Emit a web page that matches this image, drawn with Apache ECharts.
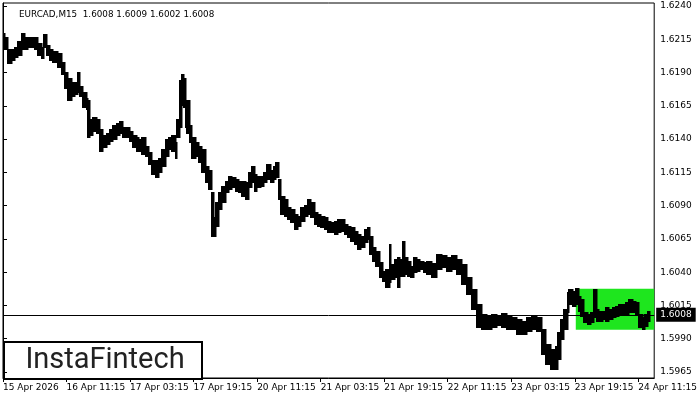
<!DOCTYPE html>
<html>
<head>
<meta charset="utf-8">
<script src="https://cdn.jsdelivr.net/npm/echarts@6/dist/echarts.min.js"></script>
<style>html,body{margin:0;padding:0;background:#fff}#c{width:700px;height:400px}</style>
</head>
<body>
<div id="c"></div>
<script>
// Bar index (15-min bars) where each sampled column starts
var colStart = [
0,2,5,9,12,15,19,22,25,29,
32,35,39,41,44,47,50,55,59,62,
65,69,72,75,77,80,84,85,87,90,
94,97,100,104,107,110,114,117,120,124,
127,130,134,137,140,144,147,150,154,157,
160,164,167,170,174,175,178,180,182,184,
185,188,190,194,197,200,204,207,210,212,
214,217,220,224,227,230,234,237,240,244,
247,250,253,255,259,262,265,269,272,275,
278,280,284,287,290,294,297,300,304,307,
310,314,317,320,324,327,330,334,337,340,
344,347,350,354,357,360,364,367,369,372,
375,379,382,385,389,390,394,397,399,402,
404,407,410,414,417,420,424,427,432,437,
442,447,452,457,462,467,472,477,482,487,
492,497,502,507,512,517,522,527,532,537,
542,547,552,557,559,562,565,569,570,574,
577,580,582,585,589,592,595,598,600,604,
607,610,614,617,620,624,627,630,634,637,
640,644,646,649];
var lastBarEnd = 651;

var highs = [
1.62197,1.62160,1.62070,1.62070,1.62092,1.62130,1.62197,1.62167,1.62160,1.62167,
1.62160,1.62122,1.62092,1.62190,1.62107,1.62070,1.62055,1.62047,1.61979,1.61897,
1.61859,1.61829,1.61822,1.61897,1.61792,1.61754,1.61709,1.61694,1.61544,1.61559,
1.61544,1.61469,1.61431,1.61446,1.61469,1.61506,1.61521,1.61529,1.61491,1.61484,
1.61454,1.61431,1.61409,1.61394,1.61409,1.61341,1.61296,1.61243,1.61243,1.61258,
1.61319,1.61394,1.61409,1.61424,1.61371,1.61544,1.61844,1.61882,1.61859,1.61672,
1.61694,1.61506,1.61416,1.61371,1.61341,1.61319,1.61191,1.61168,1.60996,1.60808,
1.60921,1.60996,1.61041,1.61078,1.61116,1.61108,1.61093,1.61078,1.61078,1.61071,
1.61146,1.61191,1.61131,1.61116,1.61116,1.61153,1.61206,1.61168,1.61191,1.61228,
1.61093,1.60966,1.60943,1.60883,1.60868,1.60830,1.60815,1.60883,1.60905,1.60943,
1.60921,1.60845,1.60830,1.60815,1.60808,1.60778,1.60770,1.60778,1.60793,1.60793,
1.60755,1.60740,1.60733,1.60703,1.60680,1.60665,1.60718,1.60733,1.60665,1.60583,
1.60553,1.60470,1.60402,1.60417,1.60605,1.60455,1.60492,1.60507,1.60492,1.60628,
1.60507,1.60477,1.60440,1.60507,1.60492,1.60477,1.60470,1.60477,1.60462,1.60530,
1.60522,1.60507,1.60522,1.60492,1.60455,1.60357,1.60267,1.60154,1.60079,1.60072,
1.60079,1.60072,1.60087,1.60072,1.60057,1.60042,1.60027,1.60057,1.60072,1.60057,
1.59967,1.59854,1.59817,1.59839,1.59944,1.60042,1.60117,1.60245,1.60267,1.60252,
1.60275,1.60215,1.60192,1.60094,1.60079,1.60094,1.60267,1.60117,1.60102,1.60102,
1.60132,1.60117,1.60132,1.60139,1.60154,1.60154,1.60170,1.60192,1.60177,1.60170,
1.60079,1.60057,1.60079,1.60102];

var lows = [
1.62130,1.62070,1.61972,1.61994,1.62017,1.62032,1.62070,1.62070,1.62085,1.62092,
1.62070,1.62032,1.62009,1.62085,1.62032,1.61994,1.61979,1.61942,1.61882,1.61784,
1.61694,1.61717,1.61732,1.61747,1.61717,1.61641,1.61619,1.61416,1.61431,1.61454,
1.61446,1.61304,1.61334,1.61356,1.61379,1.61394,1.61431,1.61446,1.61416,1.61409,
1.61379,1.61334,1.61304,1.61304,1.61281,1.61266,1.61206,1.61131,1.61108,1.61146,
1.61191,1.61266,1.61319,1.61304,1.61258,1.61416,1.61491,1.61656,1.61641,1.61491,
1.61446,1.61371,1.61258,1.61266,1.61228,1.61153,1.61071,1.61018,1.60665,1.60665,
1.60740,1.60868,1.60921,1.60996,1.61018,1.61033,1.61003,1.60996,1.60966,1.60943,
1.61033,1.61071,1.61003,1.61033,1.61041,1.61071,1.61093,1.61071,1.61093,1.61108,
1.60943,1.60830,1.60815,1.60793,1.60770,1.60718,1.60740,1.60778,1.60815,1.60830,
1.60808,1.60755,1.60740,1.60733,1.60718,1.60695,1.60695,1.60680,1.60695,1.60703,
1.60680,1.60658,1.60628,1.60605,1.60568,1.60583,1.60620,1.60643,1.60530,1.60477,
1.60440,1.60357,1.60327,1.60282,1.60320,1.60342,1.60357,1.60282,1.60365,1.60365,
1.60380,1.60365,1.60357,1.60395,1.60402,1.60417,1.60395,1.60380,1.60357,1.60417,
1.60432,1.60402,1.60417,1.60380,1.60305,1.60230,1.60117,1.59982,1.59967,1.59967,
1.59982,1.59997,1.59982,1.59967,1.59967,1.59929,1.59929,1.59952,1.59967,1.59952,
1.59779,1.59704,1.59666,1.59666,1.59741,1.59892,1.59967,1.60094,1.60154,1.60139,
1.60154,1.60102,1.60064,1.60019,1.60004,1.60019,1.60057,1.60027,1.60027,1.60042,
1.60027,1.60042,1.60057,1.60064,1.60079,1.60079,1.60079,1.60094,1.60094,1.60079,
1.59982,1.59967,1.59989,1.60027];

// Time tick labels at bar indices
var tickIndex = [0,64,128,192,256,320,384,448,512,576,640];
var tickLabels = ["15 Apr 2026","16 Apr 11:15","17 Apr 03:15","17 Apr 19:15","20 Apr 11:15",
  "21 Apr 03:15","21 Apr 19:15","22 Apr 11:15","23 Apr 03:15","23 Apr 19:15","24 Apr 11:15"];

// Price axis labels
var priceTicks = [1.5965,1.5990,1.6015,1.6040,1.6065,1.6090,1.6115,1.6140,1.6165,1.6190,1.6215,1.6240];
var priceMin = 1.59605, priceMax = 1.62423;
var barMax = 656;

// Green zone (rectangle pattern)
var zoneStart = [577];
var zoneEnd = [656];
var zoneHigh = [1.60275];
var zoneLow = [1.59968];

var lastPrice = 1.6008;
var titleText = "EURCAD,M15  1.6008 1.6009 1.6002 1.6008";

var barData = colStart.map(function (s, i) {
  var e = i + 1 < colStart.length ? colStart[i + 1] : lastBarEnd;
  return [s, e, highs[i], lows[i]];
});
var zoneData = zoneStart.map(function (s, i) { return [s, zoneEnd[i], zoneHigh[i], zoneLow[i]]; });

function rectItem(fill, snap) {
  return function (params, api) {
    var p1 = api.coord([api.value(0), api.value(2)]);
    var p2 = api.coord([api.value(1), api.value(3)]);
    var x0 = p1[0], x1 = p2[0], y0 = p1[1], y1 = p2[1];
    if (snap) { x0 = Math.floor(x0); x1 = Math.ceil(x1) + 0.5; y0 = Math.floor(y0); y1 = Math.ceil(y1); }
    return {
      type: 'rect',
      shape: { x: x0, y: y0, width: Math.max(1, x1 - x0), height: Math.max(1, y1 - y0) },
      style: { fill: fill }
    };
  };
}

var FONT = 'DejaVu Sans';
var chart = echarts.init(document.getElementById('c'), null, { renderer: 'canvas' });
chart.setOption({
  animation: false,
  backgroundColor: '#ffffff',
  title: {
    text: titleText, left: 14, top: 5,
    textStyle: { fontFamily: FONT, fontSize: 8.8, fontWeight: 'normal', color: '#000' }
  },
  grid: { left: 3, right: 41, top: 3, bottom: 22, show: true, borderColor: '#000', borderWidth: 1, backgroundColor: 'transparent' },
  xAxis: {
    type: 'value', min: 0, max: barMax, position: 'bottom',
    splitLine: { show: false },
    axisLine: { show: true, onZero: false, lineStyle: { color: '#000', width: 1 } },
    axisTick: { show: true, length: 4, inside: false, customValues: tickIndex, lineStyle: { color: '#000' } },
    axisLabel: {
      show: true, customValues: tickIndex, align: 'left', margin: 5,
      fontFamily: FONT, fontSize: 9, color: '#000',
      formatter: function (v) { var k = tickIndex.indexOf(Math.round(v)); return k >= 0 ? tickLabels[k] : ''; }
    }
  },
  yAxis: {
    type: 'value', min: priceMin, max: priceMax, position: 'right', scale: true,
    splitLine: { show: false },
    axisLine: { show: true, lineStyle: { color: '#000', width: 1 } },
    axisTick: { show: true, length: 4, inside: false, customValues: priceTicks, lineStyle: { color: '#000' } },
    axisLabel: {
      show: true, customValues: priceTicks, margin: 6,
      fontFamily: FONT, fontSize: 9, color: '#000',
      formatter: function (v) { return v.toFixed(4); }
    }
  },
  series: [
    {
      type: 'custom', name: 'zone', z: 1, silent: true,
      renderItem: rectItem('#1ee61e', false),
      encode: { x: [0, 1], y: [2, 3] },
      data: zoneData
    },
    {
      type: 'custom', name: 'EURCAD', z: 3, silent: true,
      renderItem: rectItem('#000000', true),
      encode: { x: [0, 1], y: [2, 3] },
      data: barData
    },
    {
      type: 'line', name: 'last', z: 4, silent: true, data: [],
      markLine: {
        silent: true, symbol: ['none', 'none'], animation: false, precision: 5,
        lineStyle: { color: '#000', width: 1, type: 'solid' },
        label: {
          show: true, position: 'end', distance: 2,
          formatter: function () { return lastPrice.toFixed(4); },
          color: '#fff', backgroundColor: '#000', padding: [3, 4, 2, 4],
          fontFamily: FONT, fontSize: 9
        },
        data: [{ yAxis: lastPrice }]
      }
    }
  ],
  graphic: [
    {
      type: 'group', left: 3, top: 341, z: 100,
      children: [
        { type: 'rect', shape: { x: 0, y: 0, width: 198, height: 37 }, style: { fill: '#fff', stroke: '#000', lineWidth: 2 } },
        { type: 'text', x: 101, y: 19, style: { text: 'InstaFintech', fill: '#222', font: '400 29px Roboto', textAlign: 'center', textVerticalAlign: 'middle' } }
      ]
    }
  ]
});
</script>
</body>
</html>
